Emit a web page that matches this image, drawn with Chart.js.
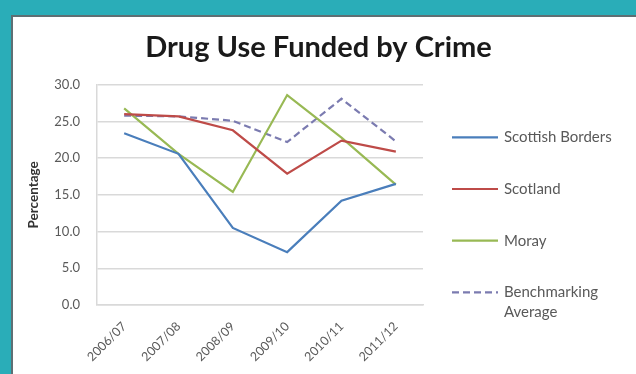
<!DOCTYPE html>
<html>
<head>
<meta charset="utf-8">
<script src="https://cdn.jsdelivr.net/npm/chart.js@4"></script>
<style>
  html, body { margin: 0; padding: 0; }
  body { width: 636px; height: 374px; background: #2aadb8; position: relative; overflow: hidden; }
  #panel { position: absolute; left: 11px; top: 15px; right: 0; bottom: 0; background: #fff;
           border-left: 2px solid #5e6f73; border-top: 2px solid #5e6f73; }
  #wrap { position: absolute; left: 0; top: 0; width: 623px; height: 357px; }
</style>
</head>
<body>
<div id="panel"><div id="wrap"><canvas id="chart"></canvas></div></div>
<script>
/* Drug use funded by crime — line chart */

var years = ['2006/07', '2007/08', '2008/09', '2009/10', '2010/11', '2011/12'];
var seriesNames = ['Scottish Borders', 'Scotland', 'Moray', 'Benchmarking\nAverage'];
var bordersVals = [23.4, 20.6, 10.5, 7.2, 14.2, 16.5];
var scotlandVals = [26.0, 25.7, 23.8, 17.9, 22.4, 20.9];
var morayVals = [26.8, 20.6, 15.4, 28.6, 22.8, 16.4];
var benchVals = [25.8, 25.7, 25.1, 22.2, 28.1, 22.3];
var yTicks = [0, 5, 10, 15, 20, 25, 30];

var seriesColors = ['#4a7ebb', '#be4b48', '#98b954', '#7b7bb0'];
var fontFam = 'Lato, "Open Sans", sans-serif';

// legend drawn at the right, one row per dataset
var sideLegend = {
  id: 'sideLegend',
  afterDraw: function(chart) {
    var ctx = chart.ctx, area = chart.chartArea;
    ctx.save();
    ctx.font = '15px ' + fontFam;
    ctx.textBaseline = 'middle';
    ctx.fillStyle = '#595959';
    chart.data.datasets.forEach(function(ds, i) {
      var y = area.top + 52.5 + i * 51.7;
      var x0 = area.right + 29;
      ctx.strokeStyle = ds.borderColor;
      ctx.lineWidth = ds.borderWidth;
      ctx.setLineDash(ds.borderDash || []);
      ctx.beginPath();
      ctx.moveTo(x0, y);
      ctx.lineTo(x0 + 46, y);
      ctx.stroke();
      ctx.setLineDash([]);
      String(ds.label).split('\n').forEach(function(line, k) {
        ctx.fillText(line, x0 + 52, y + k * 20);
      });
    });
    ctx.restore();
  }
};

var datasets = [bordersVals, scotlandVals, morayVals, benchVals].map(function(vals, i) {
  return {
    label: seriesNames[i],
    data: vals,
    borderColor: seriesColors[i],
    backgroundColor: seriesColors[i],
    borderWidth: 2.2,
    borderDash: i === 3 ? [7, 4] : [],
    pointRadius: 0,
    tension: 0,
    fill: false
  };
});

new Chart(document.getElementById('chart'), {
  type: 'line',
  data: { labels: years, datasets: datasets },
  plugins: [sideLegend],
  options: {
    responsive: true, maintainAspectRatio: false, animation: false,
    layout: { padding: { left: 0, right: 12, top: 0, bottom: 0 } },
    plugins: {
      legend: { display: false },
      tooltip: { enabled: false },
      title: {
        display: true, text: 'Drug Use Funded by Crime', color: '#1a1a1a',
        font: { family: fontFam, size: 29, weight: 'bold' },
        padding: { top: 13, bottom: 20 }
      }
    },
    scales: {
      x: {
        offset: true,
        grid: { display: false },
        border: { display: true, color: '#d9d9d9', width: 1.5 },
        ticks: { color: '#595959', font: { family: fontFam, size: 12.5 }, minRotation: 45, maxRotation: 45, autoSkip: false, padding: 6 },
        afterFit: function(s) { s.height = 69; }
      },
      y: {
        min: 0, max: 30,
        afterBuildTicks: function(s) { s.ticks = yTicks.map(function(v) { return { value: v }; }); },
        grid: { color: '#d9d9d9', lineWidth: 1.5, drawTicks: false },
        border: { display: true, color: '#d9d9d9', width: 1.5 },
        ticks: { color: '#595959', font: { family: fontFam, size: 13 }, padding: 17,
                 callback: function(v) { return v.toFixed(1); } },
        title: { display: true, text: 'Percentage', color: '#333', font: { family: fontFam, size: 13.5, weight: 'bold' }, padding: { top: 13, bottom: 0 } },
        afterFit: function(s) { s.width = 84; }
      },
      yGap: {
        position: 'right',
        grid: { display: false },
        border: { display: false },
        ticks: { display: false },
        afterFit: function(s) { s.width = 201; }
      }
    }
  }
});
</script>
</body>
</html>
